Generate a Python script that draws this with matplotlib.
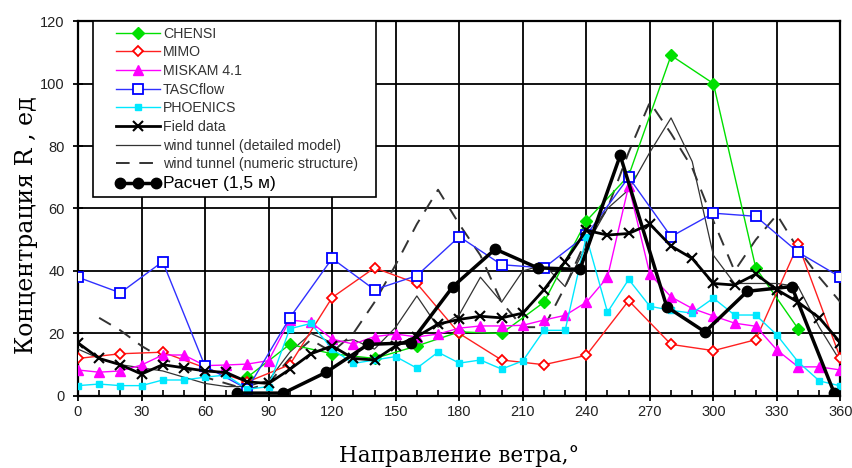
import matplotlib

matplotlib.use("Agg")
import matplotlib.pyplot as plt  # noqa: E402
from matplotlib.legend_handler import HandlerLine2D  # noqa: E402
from matplotlib.patches import Rectangle  # noqa: E402
from matplotlib.ticker import MultipleLocator  # noqa: E402

# wind directions, degrees
dir_20 = list(range(0, 361, 20))
dir_10 = list(range(0, 361, 10))
dir_chensi = list(range(80, 341, 20))
dir_numeric = list(range(10, 361, 10))
dir_calc = [75, 97, 117, 137, 157, 177, 197, 217, 237, 256, 278, 296, 316, 337, 357]

chensi = [6, 16.5, 13.5, 12, 16, 20.5, 20, 30, 56, 70.5, 109, 100, 41, 21.5]
mimo = [12, 13.5, 14, 9, 4.5, 10, 31.5, 41, 36, 20, 11.5, 10, 13, 30.5,
        16.5, 14.5, 18, 48.5, 12]
tascflow = [38, 33, 43, 9.5, 2.2, 25, 44, 34, 38.5, 51, 42, 41, 51.5, 70,
            51, 58.5, 57.5, 46, 38]
miskam = [8.3, 7.6, 8, 9.9, 13.1, 13.1, 9.7, 9.9, 10.2, 11.3, 24.3, 23.6,
          18.2, 16.6, 19, 19.8, 18.9, 19.8, 21.7, 22.4, 22.4, 22.6, 24.3,
          25.8, 30, 38, 67.3, 39, 31.7, 28, 25.6, 23.3, 22.3, 14.7, 9.3,
          9.3, 8.3]
phoenics = [3.3, 3.8, 3.3, 3.3, 5.1, 5.1, 6, 6.7, 2.1, 3, 21.5, 23.2, 15,
            10.4, 11.5, 12.6, 8.9, 14, 10.5, 11.5, 8.6, 11.2, 21, 21, 51,
            26.8, 37.3, 28.7, 27.4, 26.5, 31.3, 25.9, 25.9, 19.5, 10.9, 4.8,
            3.2]
field = [17, 12, 10, 7, 10, 9, 8, 7.5, 4.5, 4, 8.5, 13.5, 16, 12, 11.5, 16,
         19, 23, 24.5, 25.5, 25, 26.5, 34, 43, 53, 51.5, 52, 55, 48, 44, 36,
         35.5, 39, 34, 30, 25, 17]
tunnel_detail = [15, 12, 10, 9, 8, 6, 4, 3, 3, 5, 14, 20, 17, 18, 15, 22, 32,
                 22, 26, 38, 30, 40, 42, 35, 48, 60, 66, 78, 89, 75, 45, 36,
                 36, 36, 35, 22, 11]
tunnel_numeric = [25, 21, 16, 12, 9, 6, 4, 2, 4, 12, 18, 14, 20, 30, 42, 55,
                  66, 55, 45, 30, 22, 22, 35, 50, 60, 78, 94, 84, 73, 56, 40,
                  50, 58, 47, 38, 30]
calc = [0.9, 0.9, 7.5, 16.5, 17, 35, 47, 41, 40.5, 77, 28.5, 20.5, 33.5, 35, 1]

x_ticks = list(range(0, 361, 30))
y_ticks = list(range(0, 121, 20))

fig = plt.figure(figsize=(8.52, 4.68), dpi=100)
ax = fig.add_axes([0.0915, 0.154, 0.895, 0.801])

ax.plot(dir_chensi, chensi, color="#00e000", lw=1, marker="D", ms=6,
        mfc="#00e000", mec="#00e000", label="CHENSI", zorder=4)
ax.plot(dir_20, mimo, color="#ff2020", lw=1, marker="D", ms=5.5,
        mfc="white", mec="#ff0000", mew=1.3, label="MIMO", zorder=4)
ax.plot(dir_10, miskam, color="#ff00ff", lw=1, marker="^", ms=6.5,
        mfc="#ff00ff", mec="#ff00ff", label="MISKAM 4.1", zorder=4)
ax.plot(dir_20, tascflow, color="#3030ff", lw=1, marker="s", ms=7,
        mfc="white", mec="#0000ff", mew=1.3, label="TASCflow", zorder=4)
ax.plot(dir_10, phoenics, color="#00e8ff", lw=1, marker="s", ms=4,
        mfc="#00e8ff", mec="#00e8ff", label="PHOENICS", zorder=4)
ax.plot(dir_10, field, color="black", lw=2, marker="x", ms=7, mew=1.5,
        label="Field data", zorder=5)
ax.plot(dir_10, tunnel_detail, color="#333333", lw=0.9,
        label="wind tunnel (detailed model)", zorder=3)
ax.plot(dir_numeric, tunnel_numeric, color="#333333", lw=1.4,
        dashes=(7, 5), label="wind tunnel (numeric structure)", zorder=3)
calc_line, = ax.plot(dir_calc, calc, color="black", lw=2.5, marker="o",
                     ms=7.5, label="Расчет (1,5 м)", zorder=6)

ax.set_xlim(0, 360)
ax.set_ylim(0, 120)
ax.set_xticks(x_ticks)
ax.set_yticks(y_ticks)
ax.xaxis.set_minor_locator(MultipleLocator(10))
ax.grid(True, color="black", lw=1.3)
ax.set_axisbelow(True)
for side in ax.spines.values():
    side.set_linewidth(1.6)

ax.tick_params(which="major", direction="inout", length=7, width=1.3,
               labelsize=10.5, pad=3)
ax.tick_params(axis="y", which="major", pad=6)
ax.tick_params(which="minor", direction="in", length=4, width=1.2)
for lab in ax.get_xticklabels() + ax.get_yticklabels():
    lab.set_fontfamily("Liberation Sans")
    lab.set_color("#222222")

ax.set_xlabel("Направление ветра,°", family="DejaVu Serif", fontsize=15.5,
              labelpad=19)
ax.set_ylabel("Концентрация R , ед", family="DejaVu Serif", fontsize=17)
# the original label sits a little below the axes centre
ax.yaxis.set_label_coords(-0.053, 0.455)

# legend frame drawn by hand so the padding matches the original box
frame = Rectangle((0.0197, 0.531), 0.371, 0.469, transform=ax.transAxes,
                  facecolor="white", edgecolor="black", lw=1.2, zorder=9)
ax.add_patch(frame)

leg = ax.legend(loc="upper left", bbox_to_anchor=(0.050, 0.985),
                borderaxespad=0, borderpad=0, frameon=False,
                handlelength=3.1, handletextpad=0.2, labelspacing=0.33,
                handler_map={calc_line: HandlerLine2D(numpoints=3)},
                prop={"family": "Liberation Sans", "size": 10.2})
leg.set_zorder(10)
for txt in leg.get_texts():
    txt.set_color("#333333")
leg.get_texts()[-1].set_fontsize(12.5)
leg.get_texts()[-1].set_color("black")

fig.savefig("out.png", dpi=100)
